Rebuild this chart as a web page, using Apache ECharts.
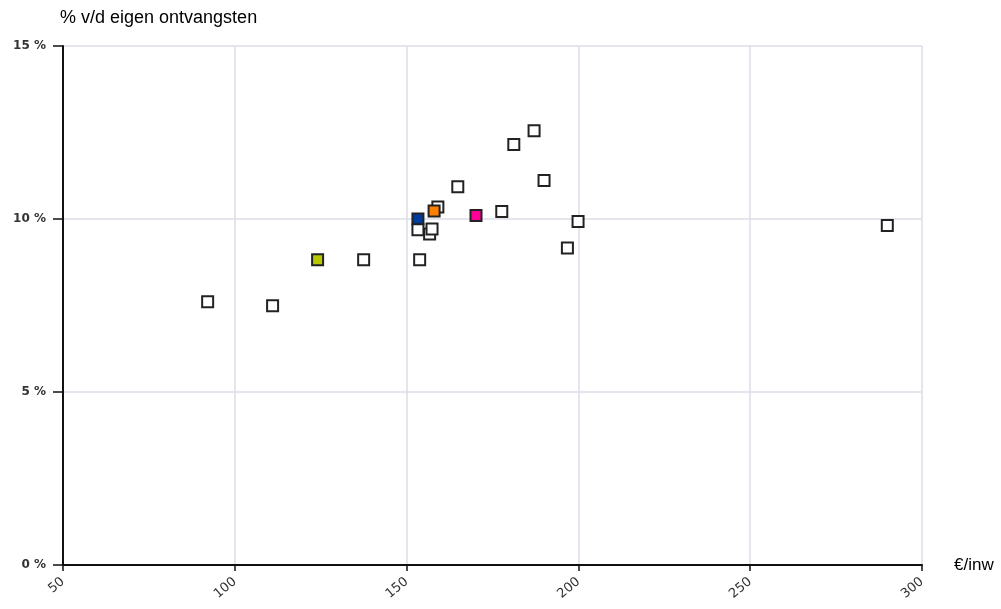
<!DOCTYPE html>
<html>
<head>
<meta charset="utf-8">
<script src="https://cdn.jsdelivr.net/npm/echarts@6/dist/echarts.min.js"></script>
<style>html,body{margin:0;padding:0;background:#fff}#c{width:1001px;height:609px}</style>
</head>
<body>
<div id="c"></div>
<script>
// Data: [€/inw, % v/d eigen ontvangsten]
var otherX = [92.1, 111.0, 137.5, 153.8, 153.3, 156.7, 157.4, 159.1, 164.9, 177.7, 181.2, 187.1, 190.0, 199.9, 196.8, 289.9];
var otherY = [7.61, 7.49, 8.82, 8.82, 9.69, 9.57, 9.71, 10.35, 10.93, 10.22, 12.15, 12.55, 11.11, 9.93, 9.16, 9.81];
var blueX = [153.3];  var blueY = [10.0];
var orangeX = [158.0]; var orangeY = [10.23];
var pinkX = [170.2];  var pinkY = [10.10];
var greenX = [124.1]; var greenY = [8.82];
var xTicks = [50, 100, 150, 200, 250, 300];
var yTicks = [0, 5, 10, 15];

function pairs(xs, ys) { return xs.map(function (x, i) { return [x, ys[i]]; }); }
function sc(name, xs, ys, color, z) {
  return {
    name: name, type: 'scatter', symbol: 'rect', symbolSize: 11, z: z,
    itemStyle: { color: color, borderColor: '#222', borderWidth: 2, opacity: 1 },
    emphasis: { disabled: true },
    data: pairs(xs, ys)
  };
}
var chart = echarts.init(document.getElementById('c'), null, { renderer: 'canvas' });
chart.setOption({
  animation: false,
  grid: { left: 63, right: 79, top: 46, bottom: 44 },
  xAxis: {
    type: 'value', min: xTicks[0], max: xTicks[xTicks.length - 1], interval: 50,
    name: '€/inw', nameLocation: 'end', nameGap: 32,
    nameTextStyle: { fontFamily: 'Liberation Sans', fontSize: 17, color: '#000', verticalAlign: 'middle' },
    axisLine: { show: true, onZero: false, lineStyle: { color: '#111', width: 2 } },
    axisTick: { show: true, length: 6, lineStyle: { color: '#111', width: 1.5 } },
    axisLabel: { rotate: 40, margin: 15, fontFamily: 'DejaVu Sans', fontSize: 13, color: '#333' },
    splitLine: { show: true, lineStyle: { color: '#dcdce8', width: 1.5 } }
  },
  yAxis: {
    type: 'value', min: yTicks[0], max: yTicks[yTicks.length - 1], interval: 5,
    name: '% v/d eigen ontvangsten', nameLocation: 'end', nameGap: 19,
    nameTextStyle: { fontFamily: 'Liberation Sans', fontSize: 18, color: '#000', align: 'left', padding: [0, 0, 0, -3] },
    axisLine: { show: true, lineStyle: { color: '#111', width: 2 } },
    axisTick: { show: true, length: 10, lineStyle: { color: '#111', width: 1.5 } },
    axisLabel: { formatter: '{value} %', margin: 17, fontFamily: 'DejaVu Sans', fontWeight: 'bold', fontSize: 12, color: '#333' },
    splitLine: { show: true, lineStyle: { color: '#dcdce8', width: 1.5 } }
  },
  series: [
    sc('blue', blueX, blueY, '#003c9c', 2),
    sc('other', otherX, otherY, '#ffffff', 3),
    sc('green', greenX, greenY, '#b5c800', 4),
    sc('orange', orangeX, orangeY, '#ff7f00', 4),
    sc('pink', pinkX, pinkY, '#ff0099', 4)
  ]
});
</script>
</body>
</html>
